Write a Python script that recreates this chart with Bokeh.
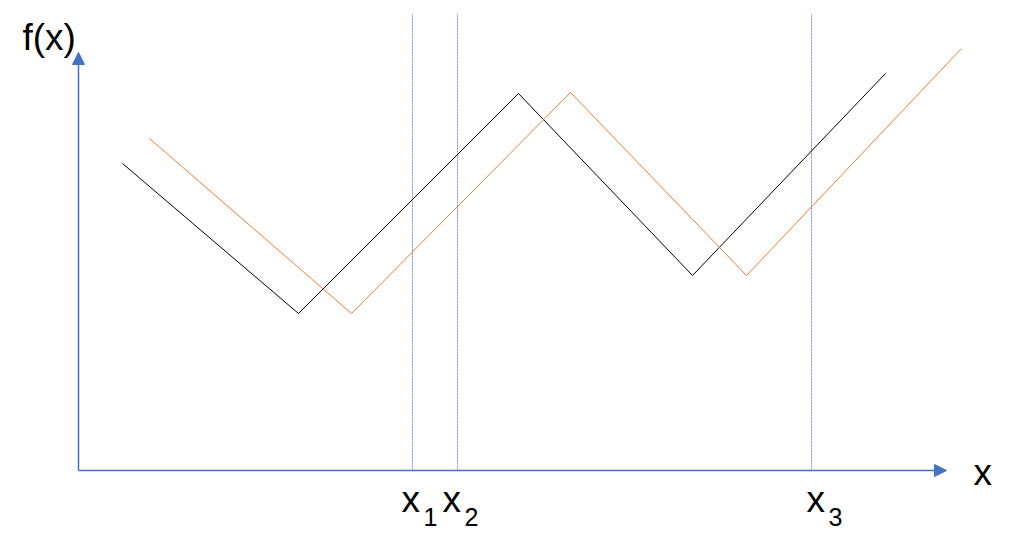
from bokeh.plotting import figure
from bokeh.models import Range1d, Arrow, NormalHead
from bokeh.core.properties import value
from bokeh.embed import file_html
from bokeh.resources import INLINE

# data (origin = axis intersection)
black_x = [44, 220, 440, 614, 807]
black_y = [307, 157, 377, 195, 397]
orange_x = [71, 273, 492, 668, 883]
orange_y = [332, 157, 378, 195, 422]
marker_x = [334, 379, 733]
marker_top = 457
marker_labels = ["x", "x", "x"]
marker_subs = ["1", "2", "3"]
x_axis_end = 868
y_axis_end = 418
x_axis_label = "x"
y_axis_label = "f(x)"

FONT = value("Liberation Sans")
BLUE = "#4472C4"

p = figure(width=1000, height=529, x_range=Range1d(-78, 922), y_range=Range1d(-59, 470),
           output_backend="svg", toolbar_location=None, min_border=0,
           x_axis_location=None, y_axis_location=None)
p.grid.visible = False
p.outline_line_color = None
p.background_fill_color = "white"

# dashed markers
p.segment(x0=marker_x, y0=[0] * len(marker_x), x1=marker_x, y1=[marker_top] * len(marker_x),
          line_color="#6A93DC", line_width=1, line_dash="2 1")

# series
p.line(black_x, black_y, line_color="black", line_width=1)
p.line(orange_x, orange_y, line_color="#ED7D31", line_width=1)

# axes with arrows
for xe, ye in [(x_axis_end, 0), (0, y_axis_end)]:
    p.add_layout(Arrow(x_start=0, y_start=0, x_end=xe, y_end=ye,
                       line_color=BLUE, line_width=1.5,
                       end=NormalHead(size=12, fill_color=BLUE, line_color=BLUE, line_width=1)))

# marker labels
offs = [-11, -15, -5]
for mx, lab, sub, o in zip(marker_x, marker_labels, marker_subs, offs):
    p.text(x=[mx], y=[-29], text=[lab], x_offset=o, text_font=FONT, text_font_size="37px",
           text_color="black", text_align="left", text_baseline="alphabetic")
    p.text(x=[mx], y=[-46], text=[sub], x_offset=o + 22, text_font=FONT, text_font_size="25px",
           text_color="black", text_align="left", text_baseline="alphabetic")

p.text(x=[x_axis_end + 27], y=[-2], text=[x_axis_label], text_font=FONT, text_font_size="37px",
       text_color="black", text_align="left", text_baseline="alphabetic")
p.text(x=[-56], y=[433], text=[y_axis_label], text_font=FONT, text_font_size="37px",
       text_color="black", text_align="left", text_baseline="alphabetic")

open("out.html", "w").write(file_html(p, INLINE))
